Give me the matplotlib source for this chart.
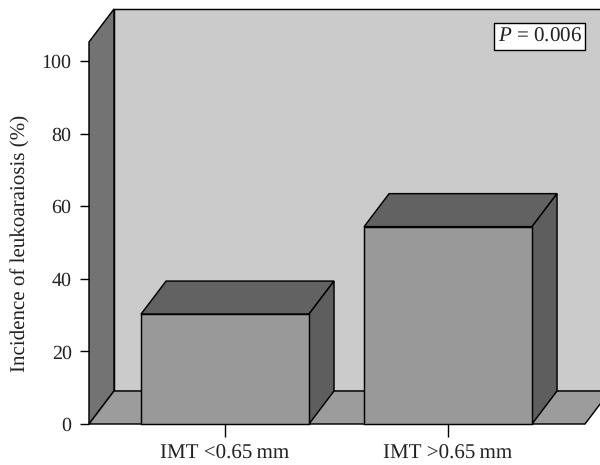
import matplotlib
matplotlib.use("Agg")
import matplotlib.pyplot as plt
from matplotlib.patches import Polygon

plt.rcParams["font.family"] = ["Liberation Serif", "DejaVu Serif"]
plt.rcParams["mathtext.fontset"] = "custom"
plt.rcParams["mathtext.it"] = "Liberation Serif:italic"
plt.rcParams["mathtext.rm"] = "Liberation Serif"
plt.rcParams["text.hinting"] = "none"
plt.rcParams["text.hinting_factor"] = 1

# Data
categories = ["IMT <0.65\u2009mm", "IMT >0.65\u2009mm"]
incidence = [30.3, 54.4]
y_ticks = [0, 20, 40, 60, 80, 100]
p_label = "$P$ = 0.006"

# Colours
WALL = "#cbcbcb"
LEFT_WALL = "#737373"
FLOOR = "#9c9c9c"
BAR_FRONT = "#999999"
BAR_TOP = "#626262"
BAR_SIDE = "#5e5e5e"
TEXT = "#222222"

fig = plt.figure(figsize=(6, 4.65), dpi=100, facecolor="white")
ax = fig.add_axes([89 / 600, 41 / 465, 496 / 600, 382 / 465])

x_min, x_max = -0.61, 1.614
y_max = 105.3
ax.set_xlim(x_min, x_max)
ax.set_ylim(0, y_max)
ax.patch.set_visible(False)

# 3D depth of the chart box, in data units
dx = 25 / 223
dy = 33 / 3.627
bar_w = 0.753


def face(points, color, z=1):
    ax.add_patch(Polygon(points, closed=True, facecolor=color, edgecolor="black",
                         linewidth=1.05, joinstyle="miter", clip_on=False, zorder=z))


# Back wall, left wall, floor
face([(x_min + dx, dy), (x_max + dx, dy), (x_max + dx, y_max + dy), (x_min + dx, y_max + dy)], WALL)
face([(x_min, 0), (x_min + dx, dy), (x_min + dx, y_max + dy), (x_min, y_max)], LEFT_WALL)
face([(x_min, 0), (x_max, 0), (x_max + dx, dy), (x_min + dx, dy)], FLOOR)

# Bars
for i, val in enumerate(incidence):
    l = i - bar_w / 2
    r = i + bar_w / 2
    face([(l, val), (r, val), (r + dx, val + dy), (l + dx, val + dy)], BAR_TOP, 3)
    face([(r, 0), (r + dx, dy), (r + dx, val + dy), (r, val)], BAR_SIDE, 3)
    face([(l, 0), (r, 0), (r, val), (l, val)], BAR_FRONT, 4)

for side in ["top", "right", "bottom", "left"]:
    ax.spines[side].set_visible(False)

ax.set_yticks(y_ticks)
ax.set_xticks(range(len(categories)))
ax.set_xticklabels(categories, color=TEXT)
ax.tick_params(axis="y", length=6.5, width=1, labelsize=14.5, pad=6, labelcolor=TEXT)
ax.tick_params(axis="x", length=9.4, width=1, labelsize=15.3, pad=5)

fig.text(20 / 600, 1 - 243.5 / 465, "Incidence of leukoaraiosis (%)", fontsize=15.2, color=TEXT,
         rotation=90, ha="center", va="center")

# P value box
fig.text(539.5 / 600, 1 - 36.5 / 465, p_label, fontsize=15.3, ha="center", va="center", color=TEXT,
         bbox=dict(facecolor="white", edgecolor="black", linewidth=1, boxstyle="square,pad=0.17"),
         zorder=10)

plt.savefig("out.png", dpi=100)
plt.close()
